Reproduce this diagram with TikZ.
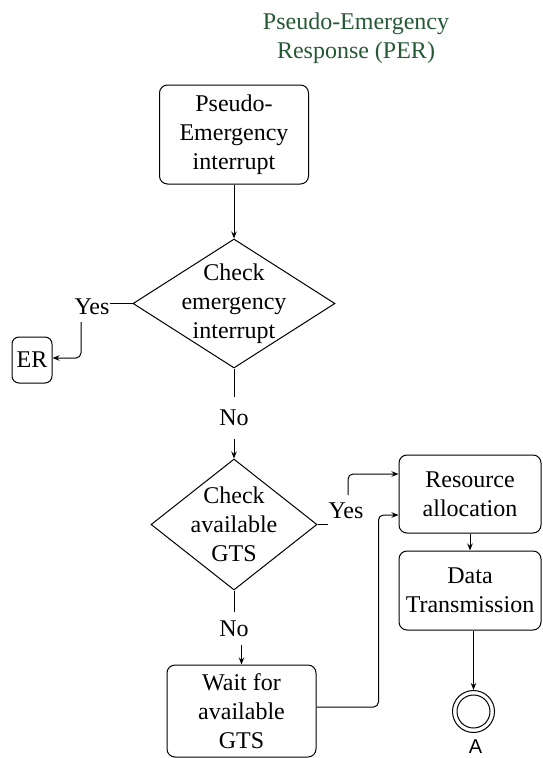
\documentclass[tikz,border=0pt]{standalone}
\usepackage{fontspec}
\setmainfont{Liberation Serif}
\newfontfamily\labelsans{Liberation Sans}
\usetikzlibrary{arrows.meta,shapes.geometric,calc}
\definecolor{titlegreen}{RGB}{38,88,52}
\tikzset{
  txt/.style={font=\fontsize{24}{29}\selectfont, align=center, inner sep=0pt},
  box/.style={txt, draw, line width=1pt, rounded corners=8pt},
  dia/.style={draw, diamond, line width=1pt, inner sep=0pt, aspect=1},
  conn/.style={line width=1pt},
  arr/.style={conn, -{Stealth[length=7pt,width=5.5pt]}},
}
\begin{document}
\begin{tikzpicture}[x=1pt,y=-1pt]
\useasboundingbox (0,0) rectangle (542,758);

% heading
\node[txt, text=titlegreen] (title) at (356,38) {Pseudo-Emergency\\Response (PER)};

% process boxes
\node[box, minimum width=149, minimum height=99] (pei) at (234,134.5) {Pseudo-\\Emergency\\interrupt};
\node[box, minimum width=40, minimum height=46, rounded corners=7pt] (er) at (32,360) {ER};
\node[box, minimum width=142, minimum height=78] (res) at (470,494) {Resource\\allocation};
\node[box, minimum width=142, minimum height=79] (data) at (470,590.5) {Data\\Transmission};
\node[box, minimum width=149, minimum height=92] (wait) at (241.5,711) {Wait for\\available\\GTS};

% decisions
\node[dia, minimum width=202, minimum height=129] (d1) at (234,303.5) {};
\node[txt] (d1t) at (d1.center) {Check\\emergency\\interrupt};
\node[dia, minimum width=166, minimum height=131] (d2) at (234,524.5) {};
\node[txt] (d2t) at (d2.center) {Check\\available\\GTS};

% branch labels
\node[txt] (yes1) at (92,307) {Yes};
\node[txt, minimum height=42] (no1) at (234,418) {No};
\node[txt] (yes2) at (346,511) {Yes};
\node[txt, minimum height=33] (no2) at (234,628.5) {No};

% end event
\node[draw, circle, line width=1pt, minimum size=42, inner sep=0pt] (endev) at (473.5,711.5) {};
\node[draw, circle, line width=1pt, minimum size=33, inner sep=0pt] (endin) at (endev.center) {};
\node[font=\labelsans\fontsize{20}{22}\selectfont, inner sep=0pt] (alab) at (475.5,746.5) {A};

% bend points
\coordinate (y1b) at (81,322);
\coordinate (y2b) at (348,495);

% connectors
\draw[arr] (pei.south) -- (d1.north);
\draw[conn] (d1.west) -- (d1.west -| yes1.east);
\draw[arr, rounded corners=5pt] (y1b) |- ($(er.east)+(0,-2)$);
\draw[conn] (d1.south) -- (no1.north);
\draw[arr] (no1.south) -- (d2.north);
\draw[conn] (d2.east) -- (d2.east -| yes2.west);
\draw[arr, rounded corners=5pt] (y2b) |- ($(res.west)+(0,-20)$);
\draw[conn] (d2.south) -- (no2.north);
\draw[arr] (no2.south -| wait.north) -- (wait.north);
\draw[arr, rounded corners=5pt] ($(wait.east)+(0,-4)$) -| ($(res.west)+(-20,21)$) -- ($(res.west)+(0,21)$);
\draw[arr] (res.south) -- (data.north);
\draw[arr] (data.south -| endev.north) -- (endev.north);
\end{tikzpicture}
\end{document}
